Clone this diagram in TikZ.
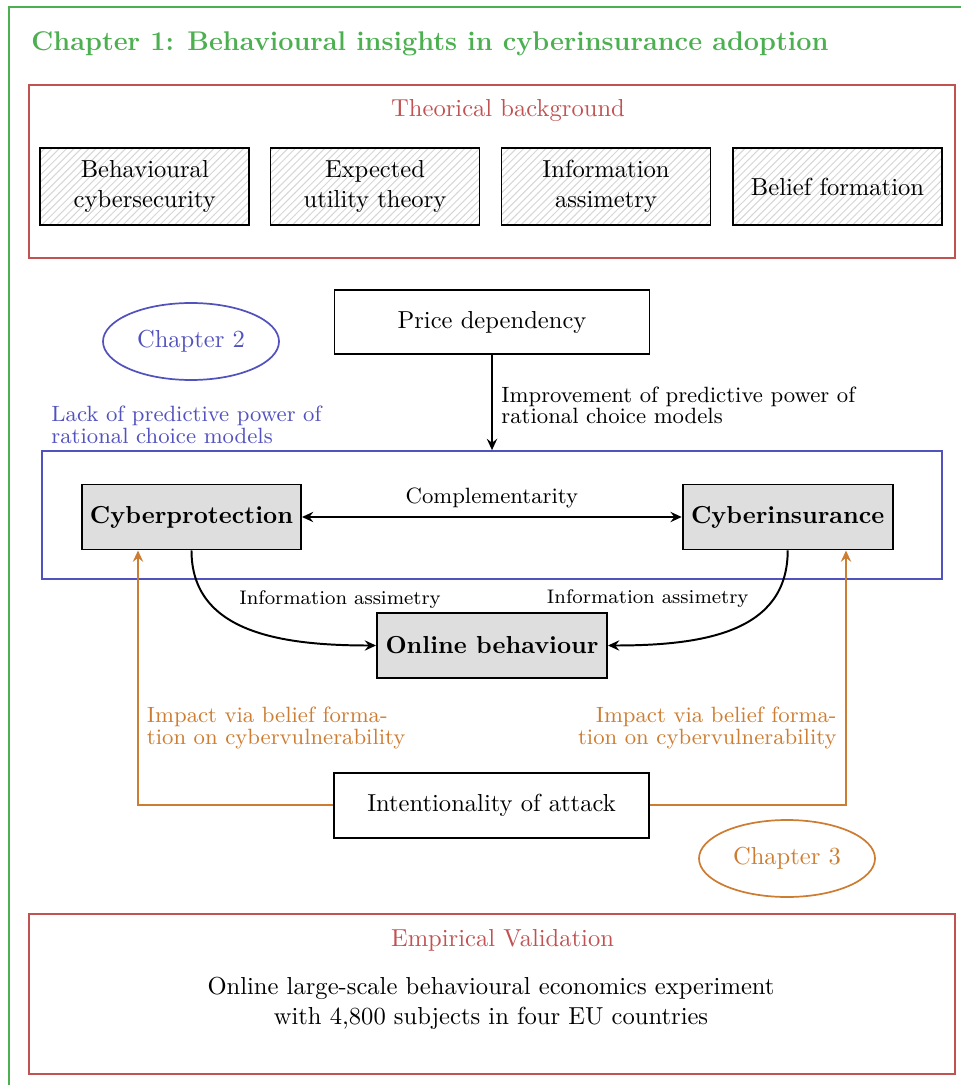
\documentclass[tikz,border=0pt]{standalone}
\usetikzlibrary{arrows.meta,patterns,shapes.geometric,fit}

\definecolor{chapgreen}{RGB}{76,175,80}
\definecolor{theoryred}{RGB}{192,82,82}
\definecolor{chapblue}{RGB}{82,82,190}
\definecolor{chaporange}{RGB}{205,125,50}
\definecolor{boxgray}{RGB}{222,222,222}

% one drawing unit
\newdimen\upx \upx=0.407pt

\tikzset{
  >={Stealth[length=4.6pt,width=4.2pt,inset=1.6pt]},
  frame/.style={draw, line width=0.7pt, inner sep=0pt},
  hatchbox/.style={draw, line width=0.8pt, pattern=north east lines, pattern color=black!16,
    minimum width=209*\upx, minimum height=77*\upx, align=center, inner sep=0pt},
  plainbox/.style={draw, fill=white, line width=0.8pt, minimum width=315*\upx, minimum height=64*\upx},
  keybox/.style={draw, fill=boxgray, line width=0.8pt, minimum height=65*\upx, font=\bfseries, inner sep=0pt},
  chapter/.style={ellipse, draw, line width=0.7pt, minimum width=176*\upx, minimum height=77*\upx},
  note/.style={font=\fontsize{9}{8.7}\selectfont, inner sep=0pt},
  edgelabel/.style={font=\footnotesize, inner sep=0pt, anchor=base},
  link/.style={->, line width=0.8pt},
  impact/.style={->, draw=chaporange, line width=0.75pt},
}

\begin{document}
\begin{tikzpicture}[x=0.407pt, y=-0.407pt]
\useasboundingbox (0,0) rectangle (960,1085);

% outer chapter frame
\draw[draw=chapgreen, line width=0.75pt] (980,7) -- (9,7) -- (9,1100);
\node[anchor=base west, font=\fontsize{11}{13}\selectfont\bfseries, text=chapgreen, inner sep=0pt] (title) at (31,51)
  {Chapter 1: Behavioural insights in cyberinsurance adoption};

% theoretical background
\node[frame, draw=theoryred, fit={(29,85) (955,258)}] (theory) {};
\node[anchor=base, text=theoryred, inner sep=0pt] (theorytitle) at (508,117) {Theorical background};
\node[hatchbox] (bcs) at (144.8,186.5) {Behavioural\\cybersecurity};
\node[hatchbox] (eut) at (375,186.5) {Expected\\utility theory};
\node[hatchbox] (ias) at (606,186.5) {Information\\assimetry};
\node[hatchbox] (bf)  at (837.5,186.5) {Belief formation};

% price dependency and chapter 2
\node[plainbox] (price) at (492,322) {Price dependency};
\node[chapter, draw=chapblue, text=chapblue] (ch2) at (191,341.5) {Chapter 2};
\node[note, text=chapblue, anchor=north west, align=left] (lack) at (51,405.6)
  {Lack of predictive power of\\rational choice models};

% rational choice block
\node[frame, draw=chapblue, fit={(42,451) (942,579)}] (rational) {};
\node[keybox, minimum width=219*\upx] (cp) at (191.5,517) {Cyberprotection};
\node[keybox, minimum width=210*\upx] (ci) at (787.7,517) {Cyberinsurance};
\node[keybox, minimum width=230*\upx] (ob) at (492,645.5) {Online behaviour};

\draw[link] (price.south) -- node[note, anchor=north west, align=left, xshift=8.5*\upx, yshift=-(384.6-354)*\upx, pos=0]
  (improve) {Improvement of predictive power of\\rational choice models} (rational.north -| price.south);

\draw[link, <->] (cp.east) -- node[above, font=\small, inner sep=3.2pt] (compl) {Complementarity} (ci.west);

\draw[link] (cp.south) .. controls +(0,82) and +(-95,0) .. (ob.west);
\draw[link] (ci.south) .. controls +(0,82) and +(95,0) .. (ob.east);
\node[edgelabel] (iaL) at (340,604) {Information assimetry};
\node[edgelabel] (iaR) at (647.7,603) {Information assimetry};

% intentionality of attack and chapter 3
\node[plainbox, minimum height=65*\upx] (attack) at (491.5,805.5) {Intentionality of attack};
\coordinate (leftrail) at (138,805);
\coordinate (rightrail) at (846,805);
\draw[impact] (attack.west |- leftrail) -- (leftrail) -- (leftrail |- cp.south);
\draw[impact] (attack.east |- rightrail) -- (rightrail) -- (rightrail |- ci.south);
\node[note, text=chaporange, anchor=north west, align=left] (impL) at (146.5,706.6)
  {Impact via belief forma-\\tion on cybervulnerability};
\node[note, text=chaporange, anchor=north east, align=right] (impR) at (837,706.6)
  {Impact via belief forma-\\tion on cybervulnerability};
\node[chapter, draw=chaporange, text=chaporange] (ch3) at (787,858.5) {Chapter 3};

% empirical validation
\node[frame, draw=theoryred, fit={(29,914) (955,1074)}] (empirical) {};
\node[anchor=base, text=theoryred, inner sep=0pt] (emptitle) at (502.5,946) {Empirical Validation};
\node[anchor=north, align=center, inner sep=0pt] (experiment) at (491,977)
  {Online large-scale behavioural economics experiment\\with 4,800 subjects in four EU countries};
\end{tikzpicture}
\end{document}
